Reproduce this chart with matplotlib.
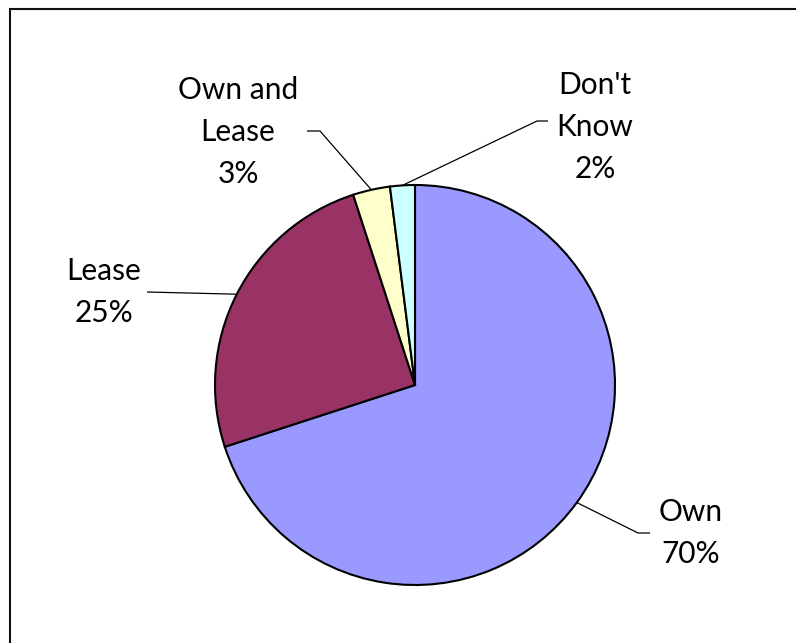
import numpy as np
import matplotlib
matplotlib.use("Agg")
import matplotlib.pyplot as plt
from matplotlib.patches import Rectangle

categories = ["Own", "Lease", "Own and\nLease", "Don't\nKnow"]
shares = [70, 25, 3, 2]
colors = ["#9999FF", "#993366", "#FFFFCC", "#CCFFFF"]

W, H = 796, 643
fig = plt.figure(figsize=(W / 100, H / 100), dpi=100)
ax = fig.add_axes([0, 0, 1, 1])

# outer frame (open on the right and bottom)
fig.patches.append(Rectangle((10 / W, -0.1), 1.2, (H - 9) / H + 0.1,
                             transform=fig.transFigure, fill=False,
                             edgecolor="#111111", linewidth=1.5))

cx, cy, r = 415, H - 385, 200
wedges, _ = ax.pie(shares, colors=colors, startangle=90, counterclock=False,
                   center=(cx, cy), radius=r, frame=True,
                   wedgeprops=dict(edgecolor="black", linewidth=1.5))
ax.set_xlim(0, W)
ax.set_ylim(0, H)
ax.set_aspect("equal")
ax.axis("off")

# label placement: (text centre, leader elbow points) in pixel units from top-left
layout = [
    ((691, 533), [(638, 533), (650, 533)]),
    ((104, 292), [(147, 292)]),
    ((238, 132), [(320, 131), (307, 131)]),
    ((595, 127), [(537, 121), (548, 121)]),
]

for w, cat, val, (tpos, elbows) in zip(wedges, categories, shares, layout):
    mid = np.deg2rad((w.theta1 + w.theta2) / 2)
    anchor = (cx + r * np.cos(mid), cy + r * np.sin(mid))
    xs = [anchor[0]] + [e[0] for e in elbows]
    ys = [anchor[1]] + [H - e[1] for e in elbows]
    ax.plot(xs, ys, color="black", linewidth=0.9, solid_capstyle="butt")
    ax.text(tpos[0], H - tpos[1], f"{cat}\n{val}%", ha="center", va="center",
            fontsize=21.5, family="Lato", linespacing=1.62, color="black")

fig.savefig("out.png", dpi=100, facecolor="white")
